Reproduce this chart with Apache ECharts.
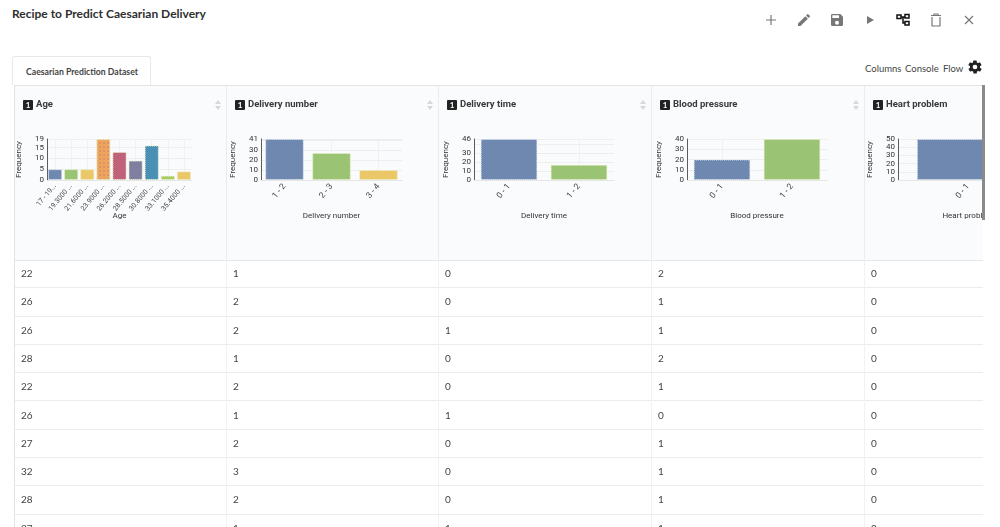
<!DOCTYPE html>
<html>
<head>
<meta charset="utf-8">
<title>Recipe to Predict Caesarian Delivery</title>
<script src="https://cdn.jsdelivr.net/npm/echarts@6/dist/echarts.min.js"></script>
<style>
html,body{margin:0;padding:0;background:#fff;overflow:hidden;}
#page{position:relative;width:1000px;height:527px;overflow:hidden;font-family:Lato,sans-serif;color:#333;}
.abs{position:absolute;white-space:nowrap;}
#title{left:12px;top:6px;font-size:12px;font-weight:700;color:#2f2f2f;}
#tab{left:12px;top:56px;width:139px;height:29px;border:1px solid #e8e8e8;border-bottom:0;border-radius:3px 3px 0 0;box-sizing:border-box;
	font-size:8.7px;font-weight:700;line-height:30px;padding-left:13px;color:#444;background:#fff;}
.link{top:63px;font-size:9.5px;color:#444;}
.icon{position:absolute;top:12px;width:16px;height:16px;}
#grid{left:14px;top:85px;width:969px;height:442px;overflow:hidden;border-top:1px solid #e3e3e3;border-left:1px solid #e3e3e3;box-sizing:border-box;}
.head{position:absolute;top:0;height:175px;background:#fafbfc;border-right:1px solid #e8eded;border-bottom:1px solid #e6e6e6;box-sizing:border-box;overflow:hidden;}
.chart{position:absolute;left:0;top:0;width:212px;height:175px;}
.badge{position:absolute;left:8px;top:14px;width:10px;height:10px;background:#222;color:#fff;font-size:8px;font-weight:700;line-height:10px;text-align:center;border-radius:1px;z-index:2;}
.colname{position:absolute;left:21px;top:12px;font-family:Roboto,sans-serif;font-size:9.5px;font-weight:700;color:#3a3a3a;z-index:2;white-space:nowrap;}
.sort{position:absolute;right:4px;top:14px;width:6px;height:10px;z-index:2;}
.cell{position:absolute;height:28.3px;line-height:27px;font-size:10px;color:#444;padding-left:6px;box-sizing:border-box;border-bottom:1px solid #ececec;border-right:1px solid #f2f2f2;filter:grayscale(1);}
#scroll{left:982px;top:85px;width:3px;height:135px;background:#8a8a8a;}
</style>
</head>
<body>
<div id="page">
	<div class="abs" id="title">Recipe to Predict Caesarian Delivery</div>
	<svg class="icon" style="left:763px" viewBox="0 0 16 16"><path d="M8 3v10M3 8h10" stroke="#777" stroke-width="1.2" fill="none"/></svg>
	<svg class="icon" style="left:796px" viewBox="0 0 24 24"><path fill="#777" d="M3 17.25V21h3.75L17.81 9.94l-3.75-3.75L3 17.25zM20.71 7.04a1 1 0 0 0 0-1.41l-2.34-2.34a1 1 0 0 0-1.41 0l-1.83 1.83 3.75 3.75 1.83-1.83z"/></svg>
	<svg class="icon" style="left:829px" viewBox="0 0 24 24"><path fill="#777" d="M17 3H5a2 2 0 0 0-2 2v14a2 2 0 0 0 2 2h14a2 2 0 0 0 2-2V7l-4-4zm-5 16a3 3 0 1 1 0-6 3 3 0 0 1 0 6zm3-10H5V5h10v4z"/></svg>
	<svg class="icon" style="left:862px" viewBox="0 0 16 16"><path fill="#777" d="M5 4l7 4-7 4z"/></svg>
	<svg class="icon" style="left:895px" viewBox="0 0 16 16"><g fill="none" stroke="#111" stroke-width="1.5"><rect x="2" y="3" width="4" height="3.5"/><rect x="10" y="2.5" width="4" height="3.5"/><rect x="10" y="9.5" width="4" height="3.5"/><path d="M6 5h4M8 5v6h2"/></g></svg>
	<svg class="icon" style="left:928px" viewBox="0 0 16 16"><g fill="none" stroke="#777" stroke-width="1.2"><path d="M4 5v9h8V5M3 3.5h10M6 3.5V2h4v1.5"/></g></svg>
	<svg class="icon" style="left:961px" viewBox="0 0 16 16"><path d="M4 4l8 8M12 4l-8 8" stroke="#777" stroke-width="1.2" fill="none"/></svg>
	<div class="abs" id="tab">Caesarian Prediction Dataset</div>
	<div class="abs link" style="left:865px">Columns</div>
	<div class="abs link" style="left:905px">Console</div>
	<div class="abs link" style="left:943px">Flow</div>
	<svg class="icon" style="left:967px;top:59px" viewBox="0 0 24 24"><path fill="#222" d="M19.4 13c.1-.3.1-.7.1-1s0-.7-.1-1l2.1-1.6c.2-.2.2-.4.1-.6l-2-3.5c-.1-.2-.4-.3-.6-.2l-2.5 1c-.5-.4-1.1-.7-1.7-1l-.4-2.6c0-.3-.2-.4-.5-.4h-4c-.3 0-.5.2-.5.4l-.4 2.6c-.6.3-1.2.6-1.7 1l-2.5-1c-.2-.1-.5 0-.6.2l-2 3.5c-.1.2-.1.5.1.6L4.6 11c-.1.3-.1.7-.1 1s0 .7.1 1l-2.1 1.6c-.2.2-.2.4-.1.6l2 3.5c.1.2.4.3.6.2l2.5-1c.5.4 1.1.7 1.7 1l.4 2.6c0 .2.2.4.5.4h4c.3 0 .5-.2.5-.4l.4-2.6c.6-.3 1.2-.6 1.7-1l2.5 1c.2.1.5 0 .6-.2l2-3.5c.1-.2.1-.5-.1-.6L19.4 13zM12 15.5a3.5 3.5 0 1 1 0-7 3.5 3.5 0 0 1 0 7z"/></svg>
	<div class="abs" id="grid"></div>
	<div class="abs" id="scroll"></div>
</div>
<script>
var BLUE = '#6f88b0', GREEN = '#9ac474', YELLOW = '#ebc767';

//column names
var columnNames = ['Age', 'Delivery number', 'Delivery time', 'Blood pressure', 'Heart problem'];

//histogram of each column
var ageCategories = ['17 - 19...', '19.3000 ...', '21.6000 ...', '23.9000 ...', '26.2000 ...', '28.5000 ...', '30.8000 ...', '33.1000 ...', '35.4000 ...'];
var ageValues = [5, 5, 5, 19, 13, 9, 16, 2, 4];
var ageTicks = [0, 5, 10, 15, 19];

var deliveryNumberCategories = ['1 - 2', '2 - 3', '3 - 4'];
var deliveryNumberValues = [41, 27, 10];
var deliveryNumberTicks = [0, 10, 20, 30, 41];

var deliveryTimeCategories = ['0 - 1', '1 - 2'];
var deliveryTimeValues = [46, 17];
var deliveryTimeTicks = [0, 10, 20, 30, 46];

var bloodPressureCategories = ['0 - 1', '1 - 2'];
var bloodPressureValues = [20, 40];
var bloodPressureTicks = [0, 10, 20, 30, 40];

var heartProblemCategories = ['0 - 1'];
var heartProblemValues = [50];
var heartProblemTicks = [0, 10, 20, 30, 40, 50];

//table rows
var ageRows = [22, 26, 26, 28, 22, 26, 27, 32, 28, 27];
var deliveryNumberRows = [1, 2, 2, 1, 2, 1, 2, 3, 2, 1];
var deliveryTimeRows = [0, 0, 1, 0, 0, 1, 0, 0, 0, 1];
var bloodPressureRows = [2, 1, 1, 2, 1, 0, 1, 1, 1, 1];
var heartProblemRows = [0, 0, 0, 0, 0, 0, 0, 0, 0, 0];

var ageColors = [BLUE, GREEN, YELLOW, '#eba55f', '#c0637a', '#7f7f9f', '#4a90b5', '#a9cc62', YELLOW];
var plainColors = [BLUE, GREEN, YELLOW];

var columnLefts = [0, 212, 424, 637, 850];
var columnWidths = [212, 212, 213, 213, 130];
var gridLefts = [32, 34, 35, 35, 33];
var gridWidths = [145, 141, 140, 140, 140];
var gapWidths = ['12%', '18%', '19%', '19%', '27%'];
var labelSizes = [7, 8.5, 8.5, 8.5, 8.5];

function initColumn(index, categories, values, ticks, colors){
	var grid = document.getElementById('grid');
	var head = document.createElement('div');
	head.className = 'head';
	head.style.left = columnLefts[index] + 'px';
	head.style.width = columnWidths[index] + 'px';
	head.innerHTML = '<div class="chart"></div><div class="badge">1</div><div class="colname">' + columnNames[index] + '</div>'
		+ '<svg class="sort" style="right:' + (index == 4 ? -99 : 5) + 'px" viewBox="0 0 6 10"><path fill="#d5d8dc" d="M3 0l3 4H0zM3 10l3-4H0z"/></svg>';
	grid.appendChild(head);

	var chart = echarts.init(head.querySelector('.chart'));
	chart.setOption(initChartOption(index, categories, values, ticks, colors));
}

function initChartOption(index, categories, values, ticks, colors){
	var barData = values.map(function(value, i){
		var item = {
			value: value,
			itemStyle: {
				color: colors[i],
				borderColor: i == 0 ? '#dbe4f2' : '#e9f0c8',
				borderWidth: 1,
				borderType: 'dotted'
			}
		};
		//the hovered bar of the age chart has a dotted fill
		if(index == 0 && i == 3){
			item.itemStyle.decal = {
				symbol: 'circle',
				symbolSize: 0.6,
				dashArrayX: 2,
				dashArrayY: 2,
				color: '#c0508a'
			};
		}
		return item;
	});
	return {
		animation: false,
		textStyle: {fontFamily: 'Roboto'},
		grid: {
			left: gridLefts[index],
			top: 53,
			width: gridWidths[index],
			height: 41,
			containLabel: false,
			outerBoundsMode: 'none'
		},
		xAxis: [{
			type: 'category',
			data: categories,
			name: columnNames[index],
			nameLocation: 'middle',
			nameGap: 32,
			nameMoveOverlap: false,
			nameTextStyle: {fontSize: 8, color: '#333'},
			axisLine: {lineStyle: {color: '#e6e6e6'}},
			axisTick: {show: false},
			axisLabel: {rotate: 50, fontSize: labelSizes[index], color: '#444', margin: 5, interval: 0},
			splitLine: {show: true, alignWithLabel: true, lineStyle: {color: '#ececec', width: 0.7}}
		}],
		yAxis: [{
			type: 'value',
			min: 0,
			max: ticks[ticks.length - 1],
			interval: ticks[1] - ticks[0],
			name: 'Frequency',
			nameLocation: 'middle',
			nameGap: 24,
			nameMoveOverlap: false,
			nameTextStyle: {fontSize: 8, color: '#333'},
			axisLine: {show: true, lineStyle: {color: '#333', width: 0.8}},
			axisTick: {show: false},
			axisLabel: {fontSize: 8, color: '#333', margin: 3, customValues: ticks},
			splitLine: {show: true, lineStyle: {color: '#e8e8e8', width: 0.7}}
		}],
		series: [{
			type: 'bar',
			barCategoryGap: gapWidths[index],
			data: barData
		}]
	};
}

function initRows(){
	var grid = document.getElementById('grid');
	var columns = [ageRows, deliveryNumberRows, deliveryTimeRows, bloodPressureRows, heartProblemRows];
	columns.forEach(function(rows, c){
		rows.forEach(function(value, r){
			var cell = document.createElement('div');
			cell.className = 'cell';
			cell.style.left = columnLefts[c] + 'px';
			cell.style.width = columnWidths[c] + 'px';
			cell.style.top = (174 + r * 28.3) + 'px';
			cell.textContent = value;
			grid.appendChild(cell);
		});
	});
}

initColumn(0, ageCategories, ageValues, ageTicks, ageColors);
initColumn(1, deliveryNumberCategories, deliveryNumberValues, deliveryNumberTicks, plainColors);
initColumn(2, deliveryTimeCategories, deliveryTimeValues, deliveryTimeTicks, plainColors);
initColumn(3, bloodPressureCategories, bloodPressureValues, bloodPressureTicks, plainColors);
initColumn(4, heartProblemCategories, heartProblemValues, heartProblemTicks, plainColors);
initRows();
</script>
</body>
</html>
